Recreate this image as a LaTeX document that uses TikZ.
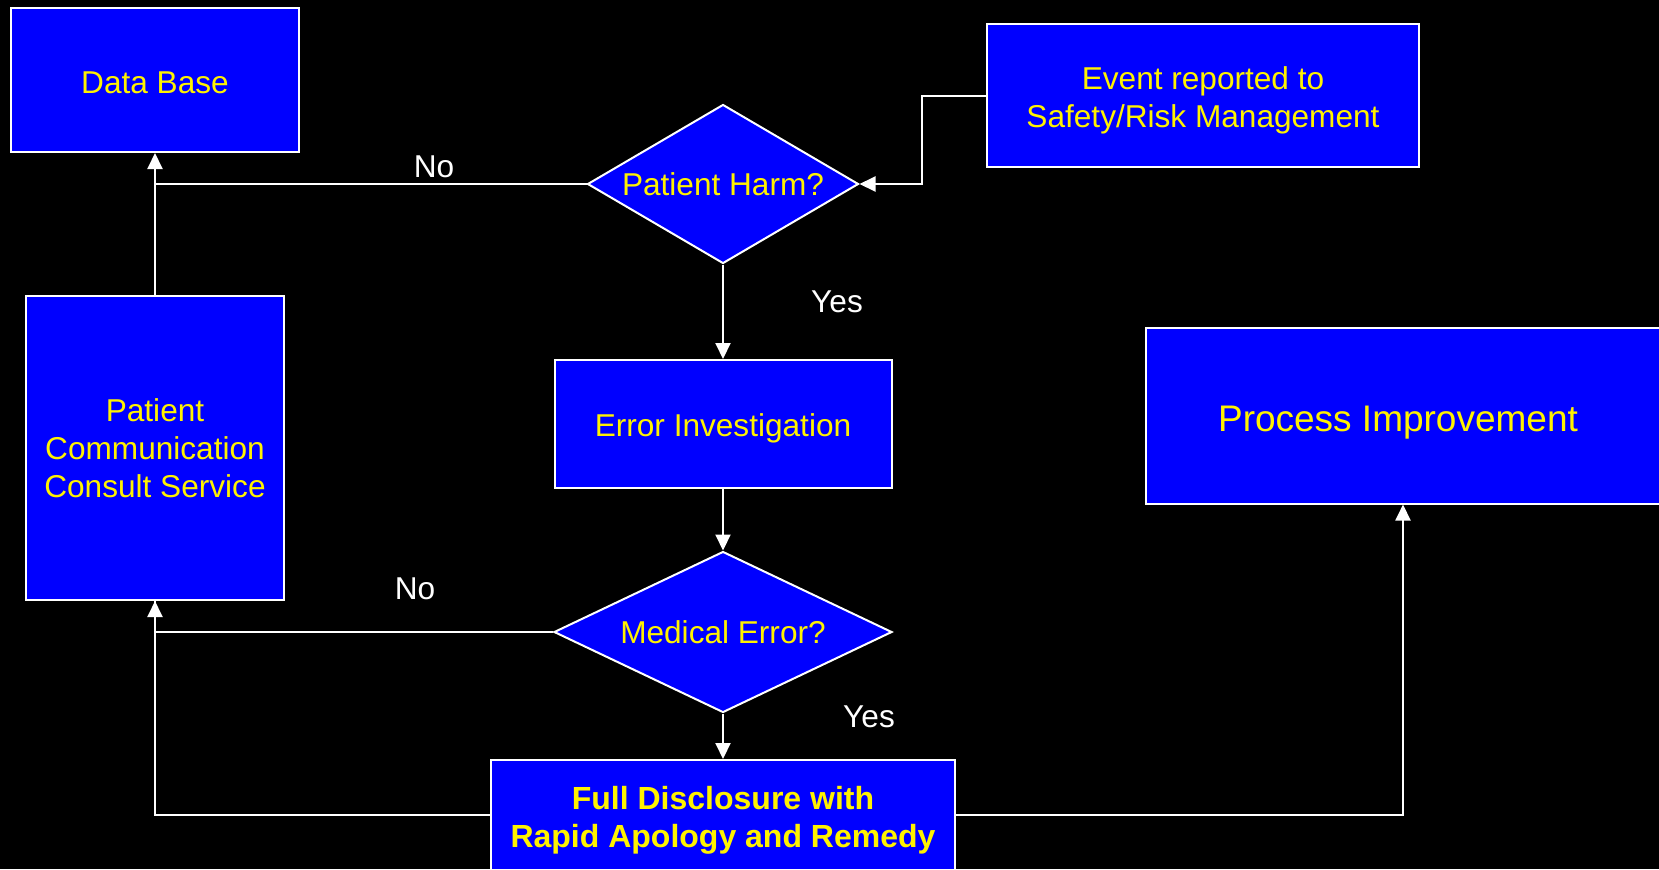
\documentclass[tikz,border=0pt]{standalone}
\usepackage{fontspec}
\setmainfont{Liberation Sans}
\usetikzlibrary{shapes.geometric,arrows.meta}
\begin{document}
\begin{tikzpicture}[x=0.5pt, y=-0.5pt, line width=1pt,
	box/.style = {draw=white, fill=blue, text=yellow, inner sep=0pt, align=center, font=\fontsize{15.8}{19}\selectfont},
	lower/.style = {execute at begin node={\rule{0pt}{#1}}},
	decision/.style = {draw=white, fill=blue, text=yellow, diamond, inner sep=0pt, font=\fontsize{15.8}{19}\selectfont},
	letter/.style = {text=white, inner sep=0pt, font=\fontsize{15.8}{19}\selectfont},
	line/.style = {draw=white},
	arr/.style = {line, -{Triangle[length=8pt,width=7.5pt]}}]
	
	\fill[black] (0,0) rectangle (1659,869);
	\useasboundingbox (0,0) rectangle (1659,869);
	
	\node[box, lower=14pt, minimum width=144pt, minimum height=72pt] (db) at (155,80) {Data Base};
	\node[decision, aspect=1.7, minimum width=135.5pt, minimum height=79.5pt] (harm) at (723,184) {Patient Harm?};
	\node[box, minimum width=216pt, minimum height=71.5pt] (event) at (1203,95.5) {\rule{0pt}{16.3pt}Event reported to\\Safety/Risk Management};
	\node[box, lower=15.5pt, minimum width=168.5pt, minimum height=64pt] (err) at (723,424) {Error Investigation};
	\node[box, minimum width=129pt, minimum height=152pt] (pccs) at (155,448) {Patient\\Communication\\Consult Service};
	\node[decision, aspect=2.1, minimum width=169pt, minimum height=80.5pt] (merr) at (723,632) {Medical Error?};
	\node[box, minimum width=232pt, minimum height=55pt, font=\fontsize{16}{19}\selectfont\bfseries] (disc) at (723,815) {\rule{0pt}{17pt}Full Disclosure with\\Rapid Apology and Remedy};
	\node[box, lower=20pt, minimum width=260pt, minimum height=88pt, font=\fontsize{18.5}{22}\selectfont] (pi) at (1406,415.5) {Process Improvement\hspace*{8pt}};
	
	\draw[arr] (event.west) -- ++(-64,0) |- (harm.east);
	\draw[line] (harm.west) -- (harm.west -| db.south);
	\draw[arr] (pccs.north) -- (db.south);
	\draw[arr] (harm.south) -- (err.north);
	\draw[arr] (err.south) -- (merr.north);
	\draw[arr] (merr.west) -| (pccs.south);
	\draw[arr] (merr.south) -- (disc.north);
	\draw[line] (disc.west) -| (pccs.south);
	\draw[arr] (disc.east) -| ([xshift=-1.5pt]pi.south);
	
	\node[letter] (no1) at (434,167) {No};
	\node[letter] (yes1) at (837,302) {Yes};
	\node[letter] (no2) at (415,589) {No};
	\node[letter] (yes2) at (869,717) {Yes};
\end{tikzpicture}
\end{document}
